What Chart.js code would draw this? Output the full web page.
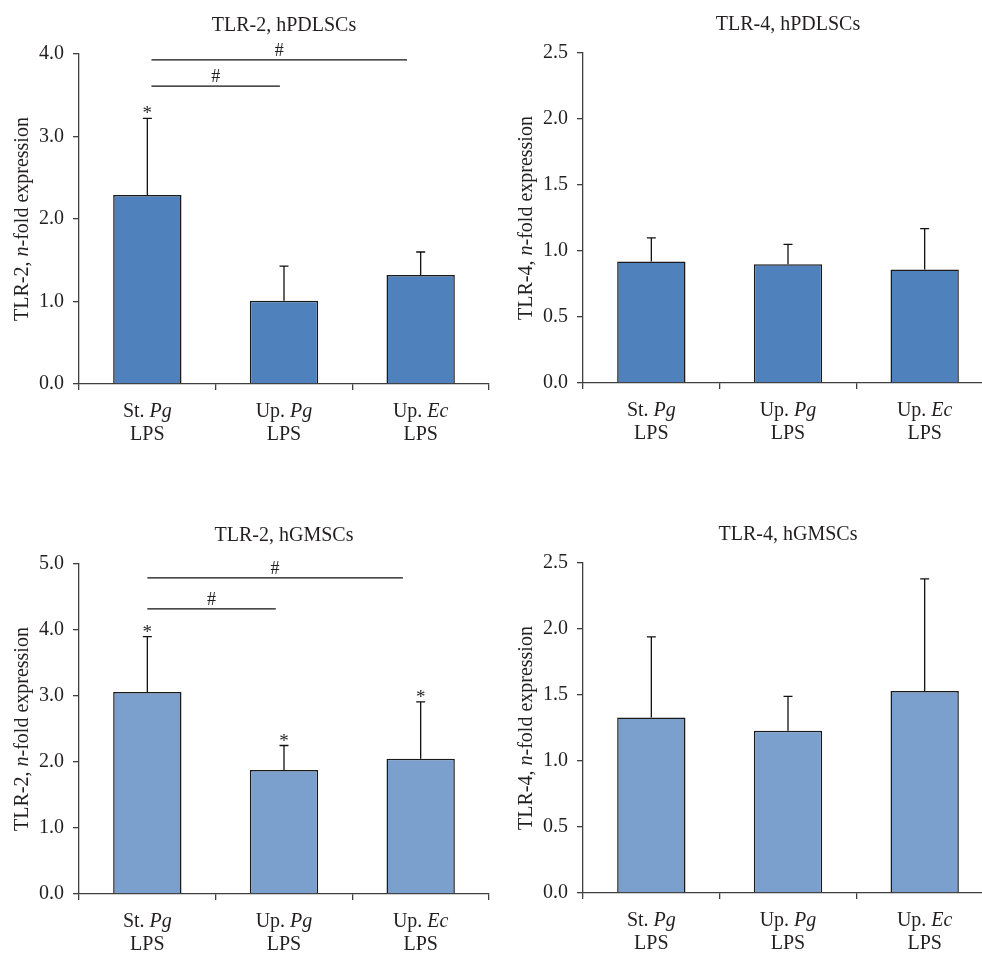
<!DOCTYPE html>
<html>
<head>
<meta charset="utf-8">
<script src="https://cdn.jsdelivr.net/npm/chart.js@4.4.0/dist/chart.umd.min.js"></script>
<style>
  html, body { margin: 0; padding: 0; background: #fff; }
  body { position: relative; width: 982px; height: 953px; overflow: hidden; }
  canvas { position: absolute; }
</style>
</head>
<body>
<canvas id="tlr2Pdl" width="492" height="450" style="left:0px;top:0px"></canvas>
<canvas id="tlr4Pdl" width="492" height="450" style="left:504px;top:-1px"></canvas>
<canvas id="tlr2Gm" width="492" height="450" style="left:0px;top:510px"></canvas>
<canvas id="tlr4Gm" width="492" height="450" style="left:504px;top:509px"></canvas>
<script>
// Data
const categoryPrefix = ['St.', 'Up.', 'Up.'];
const categoryStrain = ['Pg', 'Pg', 'Ec'];
const categoryLine2 = ['LPS', 'LPS', 'LPS'];

const tlr2PdlMeans = [2.29, 1.01, 1.32];
const tlr2PdlErr = [0.93, 0.42, 0.28];
const tlr2PdlStars = ['*', '', ''];
const tlr2PdlBracketFrom = [0.03, 0.03];
const tlr2PdlBracketTo = [1.9, 0.97];
const tlr2PdlBracketY = [3.93, 3.61];

const tlr4PdlMeans = [0.92, 0.90, 0.86];
const tlr4PdlErr = [0.18, 0.15, 0.31];

const tlr2GmMeans = [3.06, 1.88, 2.05];
const tlr2GmErr = [0.84, 0.37, 0.86];
const tlr2GmStars = ['*', '*', '*'];
const tlr2GmBracketFrom = [0, 0];
const tlr2GmBracketTo = [1.87, 0.94];
const tlr2GmBracketY = [4.79, 4.32];

const tlr4GmMeans = [1.33, 1.23, 1.53];
const tlr4GmErr = [0.61, 0.26, 0.85];

const labels = categoryPrefix.map((p, i) => p + ' ' + categoryStrain[i] + ' ' + categoryLine2[i]);

const SERIF = '"Liberation Serif", "Times New Roman", serif';
const TEXT = '#231f20';
const AXIS = '#3f3f3f';
Chart.defaults.font.family = SERIF;
Chart.defaults.font.size = 20;
Chart.defaults.color = TEXT;

// draws a string made of [text, italic] parts centred on x
function drawParts(ctx, parts, x, y, size) {
  let total = 0;
  parts.forEach(p => {
    ctx.font = (p[1] ? 'italic ' : '') + size + 'px ' + SERIF;
    total += ctx.measureText(p[0]).width;
  });
  let cx = x - total / 2;
  parts.forEach(p => {
    ctx.font = (p[1] ? 'italic ' : '') + size + 'px ' + SERIF;
    ctx.fillText(p[0], cx, y);
    cx += ctx.measureText(p[0]).width;
  });
}

function panelPlugin(cfg) {
  return {
    id: 'panel',
    afterDatasetsDraw(chart) {
      const ctx = chart.ctx;
      const area = chart.chartArea;
      const xs = chart.scales.x;
      const ys = chart.scales.y;
      const meta = chart.getDatasetMeta(0);
      ctx.save();
      ctx.fillStyle = TEXT;
      ctx.strokeStyle = '#111';
      ctx.lineWidth = 1.3;

      // error bars (upper only) + asterisks
      meta.data.forEach((bar, i) => {
        const top = ys.getPixelForValue(cfg.means[i] + cfg.err[i]);
        ctx.beginPath();
        ctx.moveTo(bar.x, bar.y);
        ctx.lineTo(bar.x, top);
        ctx.moveTo(bar.x - 4.5, top);
        ctx.lineTo(bar.x + 4.5, top);
        ctx.stroke();
        if (cfg.stars && cfg.stars[i]) {
          ctx.font = '19px ' + SERIF;
          ctx.textAlign = 'center';
          ctx.textBaseline = 'alphabetic';
          ctx.fillText(cfg.stars[i], bar.x, top + 1);
        }
      });

      // significance brackets
      if (cfg.bracketY) {
        const x0 = xs.getPixelForValue(0);
        const step = xs.getPixelForValue(1) - x0;
        cfg.bracketY.forEach((v, i) => {
          const y = ys.getPixelForValue(v);
          const a = x0 + cfg.bracketFrom[i] * step;
          const b = x0 + cfg.bracketTo[i] * step;
          ctx.beginPath();
          ctx.moveTo(a, y);
          ctx.lineTo(b, y);
          ctx.stroke();
          ctx.font = '18px ' + SERIF;
          ctx.textAlign = 'center';
          ctx.textBaseline = 'alphabetic';
          ctx.fillText('#', (a + b) / 2, y - 4);
        });
      }

      // category labels with italic strain names
      ctx.textAlign = 'left';
      ctx.textBaseline = 'middle';
      labels.forEach((l, i) => {
        const x = xs.getPixelForValue(i);
        drawParts(ctx, [[categoryPrefix[i] + ' ', false], [categoryStrain[i], true]], x, area.bottom + 28, 20);
        drawParts(ctx, [[categoryLine2[i], false]], x, area.bottom + 51, 20);
      });

      // panel title
      drawParts(ctx, [[cfg.title, false]], (area.left + area.right) / 2, area.top - 28, 20);

      // y-axis title
      ctx.translate(area.left - 56, (area.top + area.bottom) / 2);
      ctx.rotate(-Math.PI / 2);
      drawParts(ctx, [[cfg.gene + ', ', false], ['n', true], ['-fold expression', false]], 0, 0, 20);
      ctx.restore();
    }
  };
}

function makePanel(id, cfg) {
  new Chart(document.getElementById(id), {
    type: 'bar',
    data: {
      labels: labels,
      datasets: [{
        data: cfg.means,
        backgroundColor: cfg.color,
        borderColor: '#1a1a1a',
        borderWidth: 1.5,
        barPercentage: 0.5,
        categoryPercentage: 1
      }]
    },
    options: {
      responsive: false,
      animation: false,
      layout: { padding: { top: 54, left: 0, right: 3, bottom: 6 } },
      plugins: { legend: { display: false }, tooltip: { enabled: false } },
      scales: {
        x: {
          offset: true,
          ticks: { display: false },
          grid: { offset: true, drawOnChartArea: false, drawTicks: true, tickLength: 6, color: AXIS, lineWidth: 1.3 },
          border: { color: AXIS, width: 1.3 },
          afterFit: s => { s.height = 60; }
        },
        y: {
          min: 0,
          max: cfg.max,
          ticks: { stepSize: cfg.step, padding: 9, color: TEXT, font: { size: 20 }, callback: v => v.toFixed(1) },
          grid: { drawOnChartArea: false, drawTicks: true, tickLength: 6, color: AXIS, lineWidth: 1.3 },
          border: { color: AXIS, width: 1.3 },
          afterFit: s => { s.width = 79; }
        }
      }
    },
    plugins: [panelPlugin(cfg)]
  });
}

document.addEventListener('DOMContentLoaded', () => {
  makePanel('tlr2Pdl', {
    title: 'TLR-2, hPDLSCs', gene: 'TLR-2', color: '#4f81bd', max: 4, step: 1,
    means: tlr2PdlMeans, err: tlr2PdlErr, stars: tlr2PdlStars,
    bracketFrom: tlr2PdlBracketFrom, bracketTo: tlr2PdlBracketTo, bracketY: tlr2PdlBracketY
  });
  makePanel('tlr4Pdl', {
    title: 'TLR-4, hPDLSCs', gene: 'TLR-4', color: '#4f81bd', max: 2.5, step: 0.5,
    means: tlr4PdlMeans, err: tlr4PdlErr
  });
  makePanel('tlr2Gm', {
    title: 'TLR-2, hGMSCs', gene: 'TLR-2', color: '#7ba0cd', max: 5, step: 1,
    means: tlr2GmMeans, err: tlr2GmErr, stars: tlr2GmStars,
    bracketFrom: tlr2GmBracketFrom, bracketTo: tlr2GmBracketTo, bracketY: tlr2GmBracketY
  });
  makePanel('tlr4Gm', {
    title: 'TLR-4, hGMSCs', gene: 'TLR-4', color: '#7ba0cd', max: 2.5, step: 0.5,
    means: tlr4GmMeans, err: tlr4GmErr
  });
});
</script>
</body>
</html>
